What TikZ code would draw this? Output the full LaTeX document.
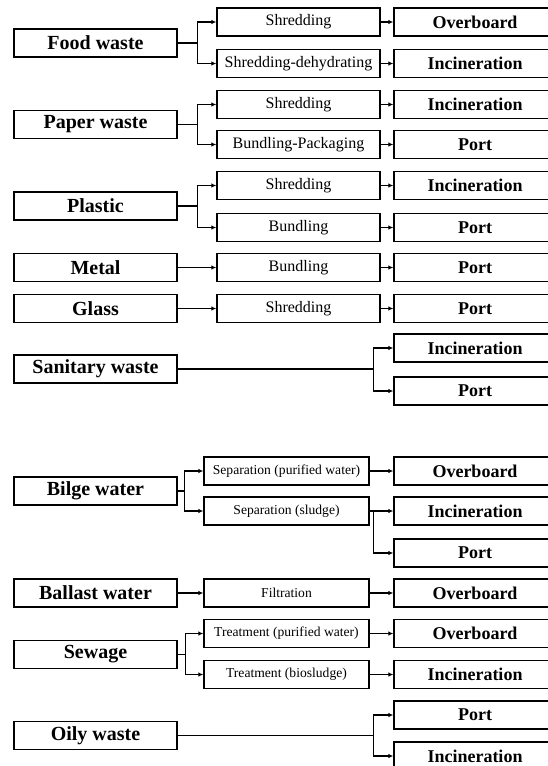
\documentclass[tikz,border=0pt]{standalone}
\usepackage{fontspec}
\setmainfont{Liberation Serif}
\usetikzlibrary{arrows.meta}
\begin{document}
\begin{tikzpicture}[x=1pt,y=-1pt,
  box/.style={draw=black, line width=1.3pt, fill=white, minimum height=28pt, inner sep=0pt},
  lbox/.style={box, minimum width=163pt, font=\fontsize{20}{22}\selectfont\bfseries},
  mbox/.style={box, minimum width=163pt, font=\fontsize{16}{18}\selectfont},
  nbox/.style={box, minimum width=165pt, font=\fontsize{13.6}{15}\selectfont},
  rbox/.style={box, minimum width=162pt, font=\fontsize{18}{20}\selectfont\bfseries},
  arr/.style={line width=1.2pt, -{Latex[length=5pt,width=4.5pt]}},
  conn/.style={line width=1.2pt}]
\useasboundingbox (0,0) rectangle (547,766);
% Left column
\node[lbox] (food) at (95.5,43) {Food waste};
\node[lbox] (paper) at (95.5,124.5) {Paper waste};
\node[lbox] (plastic) at (95.5,206) {Plastic};
\node[lbox] (metal) at (95.5,267.5) {Metal};
\node[lbox] (glass) at (95.5,308.5) {Glass};
\node[lbox] (san) at (95.5,369) {Sanitary waste};
\node[lbox] (bilge) at (95.5,491) {Bilge water};
\node[lbox] (ballast) at (95.5,593) {Ballast water};
\node[lbox] (sewage) at (95.5,654.5) {Sewage};
\node[lbox] (oily) at (95.5,735.5) {Oily waste};
% Middle column
\node[mbox] (m1) at (298.5,22) {Shredding};
\node[mbox] (m2) at (298.5,63.5) {Shredding-dehydrating};
\node[mbox] (m3) at (298.5,104.5) {Shredding};
\node[mbox] (m4) at (298.5,144.5) {Bundling-Packaging};
\node[mbox] (m5) at (298.5,185.5) {Shredding};
\node[mbox] (m6) at (298.5,227.5) {Bundling};
\node[mbox] (m7) at (298.5,267.5) {Bundling};
\node[mbox] (m8) at (298.5,308.5) {Shredding};
\node[nbox] (n1) at (286.5,471) {Separation (purified water)};
\node[nbox] (n2) at (286.5,511) {Separation (sludge)};
\node[nbox] (n3) at (286.5,593) {Filtration};
\node[nbox] (n4) at (286.5,633.5) {Treatment (purified water)};
\node[nbox] (n5) at (286.5,674.5) {Treatment (biosludge)};
% Right column
\node[rbox] (r1) at (475,22) {Overboard};
\node[rbox] (r2) at (475,63.5) {Incineration};
\node[rbox] (r3) at (475,104.5) {Incineration};
\node[rbox] (r4) at (475,144.5) {Port};
\node[rbox] (r5) at (475,185.5) {Incineration};
\node[rbox] (r6) at (475,227.5) {Port};
\node[rbox] (r7) at (475,267.5) {Port};
\node[rbox] (r8) at (475,308.5) {Port};
\node[rbox] (r9) at (475,348) {Incineration};
\node[rbox] (r10) at (475,391) {Port};
\node[rbox] (r11) at (475,471) {Overboard};
\node[rbox] (r12) at (475,511) {Incineration};
\node[rbox] (r13) at (475,553) {Port};
\node[rbox] (r14) at (475,593) {Overboard};
\node[rbox] (r15) at (475,633.5) {Overboard};
\node[rbox] (r16) at (475,674.5) {Incineration};
\node[rbox] (r17) at (475,715) {Port};
\node[rbox] (r18) at (475,756) {Incineration};
% Left to middle
\draw[arr] (food.east) -- +(20,0) |- (m1.west);
\draw[arr] (food.east) -- +(20,0) |- (m2.west);
\draw[arr] (paper.east) -- +(20,0) |- (m3.west);
\draw[arr] (paper.east) -- +(20,0) |- (m4.west);
\draw[arr] (plastic.east) -- +(20,0) |- (m5.west);
\draw[arr] (plastic.east) -- +(20,0) |- (m6.west);
\draw[arr] (metal.east) -- (m7.west);
\draw[arr] (glass.east) -- (m8.west);
\draw[arr] (bilge.east) -- +(7,0) |- (n1.west);
\draw[arr] (bilge.east) -- +(7,0) |- (n2.west);
\draw[arr] (ballast.east) -- (n3.west);
\draw[arr] (sewage.east) -- +(8,0) |- (n4.west);
\draw[arr] (sewage.east) -- +(8,0) |- (n5.west);
% Middle to right
\foreach \a/\b in {m1/r1,m2/r2,m3/r3,m4/r4,m5/r5,m6/r6,m7/r7,m8/r8,n1/r11,n3/r14,n4/r15,n5/r16}
  \draw[arr] (\a.east) -- (\b.west);
% Direct branches
\draw[arr] (san.east) -- ([xshift=-20pt]r9.west |- san.east) |- (r9.west);
\draw[arr] (san.east) -- ([xshift=-20pt]r10.west |- san.east) |- (r10.west);
\draw[arr] (n2.east) -- ([xshift=-20pt]r12.west |- n2.east) |- (r12.west);
\draw[arr] (n2.east) -- ([xshift=-20pt]r13.west |- n2.east) |- (r13.west);
\draw[arr] (oily.east) -- ([xshift=-20pt]r17.west |- oily.east) |- (r17.west);
\draw[arr] (oily.east) -- ([xshift=-20pt]r18.west |- oily.east) |- (r18.west);
\end{tikzpicture}
\end{document}
